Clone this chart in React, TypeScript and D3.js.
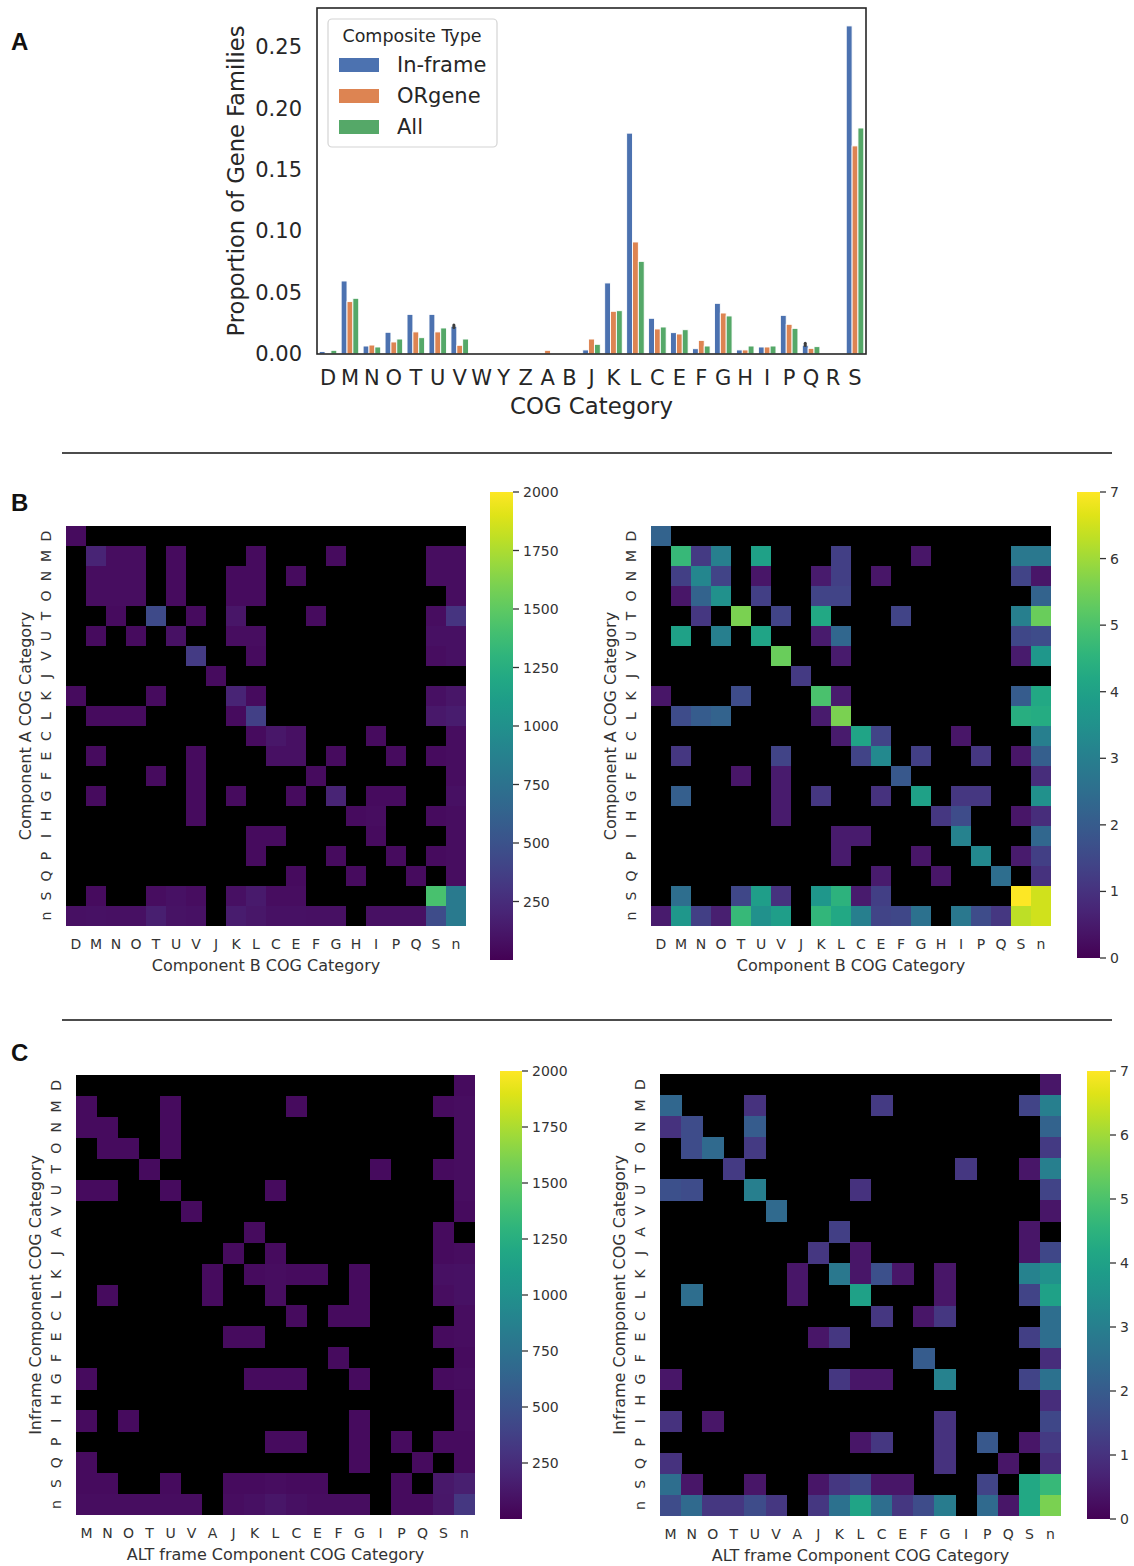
import { useEffect, useRef } from "react";
import * as d3 from "d3";

const FONT = "DejaVu Sans, sans-serif";
const INK = "#262626";
const TICK_INK = "#333";

// ---- Panel A: proportion of gene families per COG category ----
const cogCats = ["D", "M", "N", "O", "T", "U", "V", "W", "Y", "Z", "A", "B", "J", "K", "L", "C", "E", "F", "G", "H", "I", "P", "Q", "R", "S"];
const inframeProp = [0.002, 0.0595, 0.0065, 0.0177, 0.0323, 0.0323, 0.0226, 0, 0, 0, 0, 0, 0.0033, 0.0579, 0.18, 0.0291, 0.0174, 0.0043, 0.0413, 0.0033, 0.0057, 0.0315, 0.0071, 0, 0.2674];
const orgeneProp = [0, 0.0427, 0.0073, 0.0098, 0.018, 0.018, 0.0071, 0, 0, 0, 0.003, 0, 0.0122, 0.0348, 0.0913, 0.0204, 0.0163, 0.0111, 0.0334, 0.0033, 0.0057, 0.0242, 0.0046, 0, 0.1696];
const allProp = [0.003, 0.0454, 0.0057, 0.0122, 0.0133, 0.0212, 0.0122, 0, 0, 0, 0, 0, 0.0079, 0.0353, 0.0755, 0.022, 0.0198, 0.0065, 0.031, 0.0065, 0.0065, 0.0209, 0.006, 0, 0.1842];
const seriesNames = ["In-frame", "ORgene", "All"];
const seriesColors = ["#4c72b0", "#dd8452", "#55a868"];
const errCats = ["V", "Q"];
const errLow = [0.0216, 0.0069];
const errHigh = [0.0236, 0.0088];
const yTicksA = [0, 0.05, 0.1, 0.15, 0.2, 0.25];

// ---- Panel B: component A x component B ----
const cogB = ["D", "M", "N", "O", "T", "U", "V", "J", "K", "L", "C", "E", "F", "G", "H", "I", "P", "Q", "S", "n"];
const countsB = [
  [60, 0, 0, 0, 0, 0, 0, 0, 0, 0, 0, 0, 0, 0, 0, 0, 0, 0, 0, 0],
  [0, 200, 70, 70, 0, 60, 0, 0, 0, 60, 0, 0, 0, 60, 0, 0, 0, 0, 70, 70],
  [0, 70, 70, 70, 0, 60, 0, 0, 60, 60, 0, 60, 0, 0, 0, 0, 0, 0, 70, 70],
  [0, 70, 70, 70, 0, 60, 0, 0, 60, 60, 0, 0, 0, 0, 0, 0, 0, 0, 0, 70],
  [0, 0, 60, 0, 450, 0, 60, 0, 110, 0, 0, 0, 60, 0, 0, 0, 0, 0, 70, 300],
  [0, 60, 0, 60, 0, 90, 0, 0, 70, 70, 0, 0, 0, 0, 0, 0, 0, 0, 80, 80],
  [0, 0, 0, 0, 0, 0, 350, 0, 0, 60, 0, 0, 0, 0, 0, 0, 0, 0, 70, 80],
  [0, 0, 0, 0, 0, 0, 0, 60, 0, 0, 0, 0, 0, 0, 0, 0, 0, 0, 0, 0],
  [60, 0, 0, 0, 60, 0, 0, 0, 200, 60, 0, 0, 0, 0, 0, 0, 0, 0, 80, 110],
  [0, 60, 60, 60, 0, 0, 0, 0, 60, 380, 0, 0, 0, 0, 0, 0, 0, 0, 130, 150],
  [0, 0, 0, 0, 0, 0, 0, 0, 0, 60, 120, 80, 0, 0, 0, 60, 0, 0, 0, 70],
  [0, 60, 0, 0, 0, 0, 60, 0, 0, 0, 80, 80, 0, 60, 0, 0, 60, 0, 60, 70],
  [0, 0, 0, 0, 60, 0, 60, 0, 0, 0, 0, 0, 60, 0, 0, 0, 0, 0, 0, 70],
  [0, 60, 0, 0, 0, 0, 60, 0, 60, 0, 0, 60, 0, 200, 0, 60, 60, 0, 0, 80],
  [0, 0, 0, 0, 0, 0, 60, 0, 0, 0, 0, 0, 0, 0, 60, 70, 0, 0, 60, 70],
  [0, 0, 0, 0, 0, 0, 0, 0, 0, 60, 60, 0, 0, 0, 0, 60, 0, 0, 0, 70],
  [0, 0, 0, 0, 0, 0, 0, 0, 0, 60, 0, 0, 0, 60, 0, 0, 60, 0, 60, 70],
  [0, 0, 0, 0, 0, 0, 0, 0, 0, 0, 0, 60, 0, 0, 60, 0, 0, 60, 0, 70],
  [0, 60, 0, 0, 70, 90, 70, 0, 80, 140, 70, 70, 0, 0, 0, 0, 0, 0, 1420, 820],
  [80, 90, 80, 80, 170, 100, 90, 0, 150, 120, 90, 90, 80, 80, 0, 80, 80, 80, 460, 820],
];
const logB = [
  [2.2, 0, 0, 0, 0, 0, 0, 0, 0, 0, 0, 0, 0, 0, 0, 0, 0, 0, 0, 0],
  [0, 4.7, 1.2, 3.0, 0, 4.0, 0, 0, 0, 1.3, 0, 0, 0, 0.4, 0, 0, 0, 0, 2.8, 2.8],
  [0, 1.3, 3.2, 1.4, 0, 0.4, 0, 0, 0.5, 1.3, 0, 0.4, 0, 0, 0, 0, 0, 0, 1.4, 0.4],
  [0, 0.4, 2.2, 3.5, 0, 1.3, 0, 0, 1.4, 1.4, 0, 0, 0, 0, 0, 0, 0, 0, 0, 2.2],
  [0, 0, 1.1, 0, 5.6, 0, 1.4, 0, 4.2, 0, 0, 0, 1.4, 0, 0, 0, 0, 0, 3.0, 5.4],
  [0, 4.0, 0, 3.0, 0, 4.1, 0, 0, 0.5, 2.3, 0, 0, 0, 0, 0, 0, 0, 0, 1.5, 1.6],
  [0, 0, 0, 0, 0, 0, 5.4, 0, 0, 0.5, 0, 0, 0, 0, 0, 0, 0, 0, 0.5, 3.7],
  [0, 0, 0, 0, 0, 0, 0, 1.2, 0, 0, 0, 0, 0, 0, 0, 0, 0, 0, 0, 0],
  [0.4, 0, 0, 0, 1.6, 0, 0, 0, 5.0, 0.5, 0, 0, 0, 0, 0, 0, 0, 0, 2.0, 4.2],
  [0, 1.6, 2.0, 2.2, 0, 0, 0, 0, 0.5, 5.6, 0, 0, 0, 0, 0, 0, 0, 0, 4.4, 4.3],
  [0, 0, 0, 0, 0, 0, 0, 0, 0, 0.5, 4.1, 1.4, 0, 0, 0, 0.4, 0, 0, 0, 3.0],
  [0, 1.1, 0, 0, 0, 0, 1.4, 0, 0, 0, 1.4, 3.3, 0, 1.3, 0, 0, 1.1, 0, 0.4, 2.1],
  [0, 0, 0, 0, 0.4, 0, 0.5, 0, 0, 0, 0, 0, 1.9, 0, 0, 0, 0, 0, 0, 0.9],
  [0, 2.1, 0, 0, 0, 0, 0.5, 0, 1.1, 0, 0, 1.0, 0, 4.0, 0, 1.1, 1.1, 0, 0, 3.5],
  [0, 0, 0, 0, 0, 0, 0.5, 0, 0, 0, 0, 0, 0, 0, 1.1, 1.6, 0, 0, 0.4, 0.9],
  [0, 0, 0, 0, 0, 0, 0, 0, 0, 0.5, 0.5, 0, 0, 0, 0, 3.1, 0, 0, 0, 2.3],
  [0, 0, 0, 0, 0, 0, 0, 0, 0, 0.5, 0, 0, 0, 0.4, 0, 0, 3.3, 0, 0.5, 1.3],
  [0, 0, 0, 0, 0, 0, 0, 0, 0, 0, 0, 0.5, 0, 0, 0.4, 0, 0, 2.5, 0, 1.0],
  [0, 2.5, 0, 0, 1.5, 3.9, 1.0, 0, 3.7, 4.5, 0.5, 1.3, 0, 0, 0, 0, 0, 0, 7.0, 6.5],
  [0.5, 3.7, 1.3, 0.6, 4.7, 3.5, 3.9, 0, 4.6, 4.2, 3.0, 1.4, 1.5, 2.6, 0, 2.8, 1.6, 1.1, 6.3, 6.5],
];

// ---- Panel C: inframe component x ALT frame component ----
const cogCRows = ["D", "M", "N", "O", "T", "U", "V", "A", "J", "K", "L", "C", "E", "F", "G", "H", "I", "P", "Q", "S", "n"];
const cogCCols = ["M", "N", "O", "T", "U", "V", "A", "J", "K", "L", "C", "E", "F", "G", "I", "P", "Q", "S", "n"];
const countsC = [
  [0, 0, 0, 0, 0, 0, 0, 0, 0, 0, 0, 0, 0, 0, 0, 0, 0, 0, 60],
  [60, 0, 0, 0, 60, 0, 0, 0, 0, 0, 60, 0, 0, 0, 0, 0, 0, 60, 70],
  [60, 60, 0, 0, 60, 0, 0, 0, 0, 0, 0, 0, 0, 0, 0, 0, 0, 0, 70],
  [0, 60, 60, 0, 60, 0, 0, 0, 0, 0, 0, 0, 0, 0, 0, 0, 0, 0, 70],
  [0, 0, 0, 60, 0, 0, 0, 0, 0, 0, 0, 0, 0, 0, 60, 0, 0, 60, 70],
  [60, 60, 0, 0, 60, 0, 0, 0, 0, 60, 0, 0, 0, 0, 0, 0, 0, 0, 70],
  [0, 0, 0, 0, 0, 60, 0, 0, 0, 0, 0, 0, 0, 0, 0, 0, 0, 0, 60],
  [0, 0, 0, 0, 0, 0, 0, 0, 60, 0, 0, 0, 0, 0, 0, 0, 0, 60, 0],
  [0, 0, 0, 0, 0, 0, 0, 60, 0, 60, 0, 0, 0, 0, 0, 0, 0, 60, 70],
  [0, 0, 0, 0, 0, 0, 60, 0, 60, 70, 60, 60, 0, 60, 0, 0, 0, 80, 90],
  [0, 60, 0, 0, 0, 0, 60, 0, 0, 70, 0, 0, 0, 60, 0, 0, 0, 70, 90],
  [0, 0, 0, 0, 0, 0, 0, 0, 0, 0, 60, 0, 60, 60, 0, 0, 0, 0, 70],
  [0, 0, 0, 0, 0, 0, 0, 60, 60, 0, 0, 0, 0, 0, 0, 0, 0, 60, 70],
  [0, 0, 0, 0, 0, 0, 0, 0, 0, 0, 0, 0, 60, 0, 0, 0, 0, 0, 60],
  [60, 0, 0, 0, 0, 0, 0, 0, 60, 60, 60, 0, 0, 60, 0, 0, 0, 60, 70],
  [0, 0, 0, 0, 0, 0, 0, 0, 0, 0, 0, 0, 0, 0, 0, 0, 0, 0, 60],
  [60, 0, 60, 0, 0, 0, 0, 0, 0, 0, 0, 0, 0, 60, 0, 0, 0, 0, 70],
  [0, 0, 0, 0, 0, 0, 0, 0, 0, 60, 60, 0, 0, 60, 0, 60, 0, 60, 60],
  [60, 0, 0, 0, 0, 0, 0, 0, 0, 0, 0, 0, 0, 60, 0, 0, 60, 0, 60],
  [60, 60, 0, 0, 60, 0, 0, 60, 60, 70, 60, 60, 0, 0, 0, 60, 0, 130, 170],
  [70, 70, 70, 70, 70, 70, 0, 70, 80, 110, 80, 70, 70, 70, 0, 60, 60, 120, 320],
];
const logC = [
  [0, 0, 0, 0, 0, 0, 0, 0, 0, 0, 0, 0, 0, 0, 0, 0, 0, 0, 0.4],
  [2.3, 0, 0, 0, 1.0, 0, 0, 0, 0, 0, 1.2, 0, 0, 0, 0, 0, 0, 1.4, 3.0],
  [1.0, 1.6, 0, 0, 2.0, 0, 0, 0, 0, 0, 0, 0, 0, 0, 0, 0, 0, 0, 2.2],
  [0, 1.6, 2.4, 0, 1.2, 0, 0, 0, 0, 0, 0, 0, 0, 0, 0, 0, 0, 0, 1.2],
  [0, 0, 0, 1.2, 0, 0, 0, 0, 0, 0, 0, 0, 0, 0, 1.1, 0, 0, 0.4, 3.0],
  [1.7, 1.6, 0, 0, 3.0, 0, 0, 0, 0, 1.0, 0, 0, 0, 0, 0, 0, 0, 0, 1.4],
  [0, 0, 0, 0, 0, 2.4, 0, 0, 0, 0, 0, 0, 0, 0, 0, 0, 0, 0, 0.4],
  [0, 0, 0, 0, 0, 0, 0, 0, 1.3, 0, 0, 0, 0, 0, 0, 0, 0, 0.4, 0],
  [0, 0, 0, 0, 0, 0, 0, 1.1, 0, 0.4, 0, 0, 0, 0, 0, 0, 0, 0.4, 1.5],
  [0, 0, 0, 0, 0, 0, 0.4, 0, 2.8, 0.4, 1.7, 0.4, 0, 0.4, 0, 0, 0, 3.1, 3.5],
  [0, 2.5, 0, 0, 0, 0, 0.4, 0, 0, 4.0, 0, 0, 0, 0.4, 0, 0, 0, 1.4, 4.0],
  [0, 0, 0, 0, 0, 0, 0, 0, 0, 0, 1.1, 0, 0.4, 1.1, 0, 0, 0, 0, 2.5],
  [0, 0, 0, 0, 0, 0, 0, 0.4, 1.1, 0, 0, 0, 0, 0, 0, 0, 0, 1.3, 2.5],
  [0, 0, 0, 0, 0, 0, 0, 0, 0, 0, 0, 0, 2.0, 0, 0, 0, 0, 0, 0.9],
  [0.4, 0, 0, 0, 0, 0, 0, 0, 1.1, 0.4, 0.4, 0, 0, 3.1, 0, 0, 0, 1.4, 2.6],
  [0, 0, 0, 0, 0, 0, 0, 0, 0, 0, 0, 0, 0, 0, 0, 0, 0, 0, 0.9],
  [1.0, 0, 0.4, 0, 0, 0, 0, 0, 0, 0, 0, 0, 0, 1.0, 0, 0, 0, 0, 1.5],
  [0, 0, 0, 0, 0, 0, 0, 0, 0, 0.4, 1.1, 0, 0, 1.0, 0, 1.9, 0, 0.4, 1.2],
  [1.0, 0, 0, 0, 0, 0, 0, 0, 0, 0, 0, 0, 0, 1.0, 0, 0, 0.4, 0, 0.9],
  [2.5, 0.4, 0, 0, 0.4, 0, 0, 0.4, 1.1, 1.5, 0.4, 0.4, 0, 0, 0, 1.4, 0, 4.2, 4.7],
  [1.6, 2.4, 1.1, 1.1, 1.6, 1.1, 0, 1.1, 2.6, 4.1, 2.5, 1.1, 1.6, 2.9, 0, 2.4, 0.4, 4.2, 5.6],
];

const countTicks = [250, 500, 750, 1000, 1250, 1500, 1750, 2000];
const logTicks = [0, 1, 2, 3, 4, 5, 6, 7];

type Sel = d3.Selection<SVGSVGElement, unknown, null, undefined>;

function drawBars(svg: Sel) {
  const left = 317, right = 866, top = 8, bottom = 354;
  const x = d3.scaleBand<string>().domain(cogCats).range([left, right]);
  const bw = x.bandwidth();
  const hue = d3.scaleBand<string>().domain(seriesNames).range([-0.4 * bw, 0.4 * bw]);
  const y = d3.scaleLinear().domain([0, 0.282]).range([bottom, top]);
  const g = svg.append("g");

  [inframeProp, orgeneProp, allProp].forEach((vals, si) => {
    const rows = cogCats.map((c, i) => ({ c, v: vals[i] })).filter((d) => d.v > 0);
    g.append("g")
      .selectAll("rect")
      .data(rows)
      .join("rect")
      .attr("x", (d) => x(d.c)! + bw / 2 + hue(seriesNames[si])!)
      .attr("width", hue.bandwidth())
      .attr("y", (d) => y(d.v))
      .attr("height", (d) => bottom - y(d.v))
      .attr("fill", seriesColors[si])
      .attr("stroke", "white")
      .attr("stroke-width", 0.9);
  });

  // collapsed error bars on the In-frame series
  g.append("g")
    .selectAll("line")
    .data(errCats.map((c, i) => ({ c, lo: errLow[i], hi: errHigh[i] })))
    .join("line")
    .attr("x1", (d) => x(d.c)! + bw / 2 + hue("In-frame")! + hue.bandwidth() / 2)
    .attr("x2", (d) => x(d.c)! + bw / 2 + hue("In-frame")! + hue.bandwidth() / 2)
    .attr("y1", (d) => y(d.lo))
    .attr("y2", (d) => y(d.hi))
    .attr("stroke", "#3d3d3d")
    .attr("stroke-width", 3)
    .attr("stroke-linecap", "round");

  g.append("rect")
    .attr("x", left).attr("y", top)
    .attr("width", right - left).attr("height", bottom - top)
    .attr("fill", "none").attr("stroke", INK).attr("stroke-width", 1.6);

  g.append("g")
    .selectAll("text")
    .data(yTicksA)
    .join("text")
    .attr("x", 302)
    .attr("y", (d) => y(d))
    .attr("text-anchor", "end")
    .attr("dominant-baseline", "central")
    .attr("font-size", 21)
    .attr("fill", INK)
    .text((d) => d3.format(".2f")(d));

  g.append("g")
    .selectAll("text")
    .data(cogCats)
    .join("text")
    .attr("x", (d) => x(d)! + bw / 2)
    .attr("y", 378)
    .attr("text-anchor", "middle")
    .attr("dominant-baseline", "central")
    .attr("font-size", 21)
    .attr("fill", INK)
    .text((d) => d);

  g.append("text")
    .attr("x", (left + right) / 2).attr("y", 406)
    .attr("text-anchor", "middle").attr("dominant-baseline", "central")
    .attr("font-size", 22.8).attr("fill", INK)
    .text("COG Category");

  g.append("text")
    .attr("transform", `translate(236,${(top + bottom) / 2}) rotate(-90)`)
    .attr("text-anchor", "middle").attr("dominant-baseline", "central")
    .attr("font-size", 22.6).attr("fill", INK)
    .text("Proportion of Gene Families");

  // Legend
  const lg = g.append("g");
  lg.append("rect")
    .attr("x", 328).attr("y", 19).attr("width", 169).attr("height", 128).attr("rx", 4)
    .attr("fill", "white").attr("fill-opacity", 0.85)
    .attr("stroke", "#d4d4d4").attr("stroke-width", 1.2);
  lg.append("text")
    .attr("x", 412).attr("y", 36)
    .attr("text-anchor", "middle").attr("dominant-baseline", "central")
    .attr("font-size", 17.5).attr("fill", INK)
    .text("Composite Type");
  seriesNames.forEach((name, i) => {
    const cy = 65 + i * 31;
    lg.append("rect")
      .attr("x", 339).attr("y", cy - 7).attr("width", 40).attr("height", 14)
      .attr("fill", seriesColors[i]);
    lg.append("text")
      .attr("x", 397).attr("y", cy)
      .attr("dominant-baseline", "central")
      .attr("font-size", 21).attr("fill", INK)
      .text(name);
  });
}

interface HeatOpts {
  id: string;
  x: number; y: number; w: number; h: number;
  rows: string[]; cols: string[];
  values: number[][];
  vmax: number;
  ticks: number[];
  cbX: number; cbW: number; cbBottom: number; cbTop: number;
  xLabel: string; yLabel: string;
}

function drawHeatmap(svg: Sel, o: HeatOpts) {
  const g = svg.append("g");
  const cx = d3.scaleBand<string>().domain(o.cols).range([o.x, o.x + o.w]);
  const cy = d3.scaleBand<string>().domain(o.rows).range([o.y, o.y + o.h]);
  const color = d3.scaleSequential(d3.interpolateViridis).domain([0, o.vmax]).clamp(true);

  g.append("rect")
    .attr("x", o.x).attr("y", o.y).attr("width", o.w).attr("height", o.h)
    .attr("fill", "#000");

  const cells = o.rows.flatMap((r, i) => o.cols.map((c, j) => ({ r, c, v: o.values[i][j] })))
    .filter((d) => d.v > 0);
  g.append("g")
    .attr("shape-rendering", "crispEdges")
    .selectAll("rect")
    .data(cells)
    .join("rect")
    .attr("x", (d) => cx(d.c)!)
    .attr("y", (d) => cy(d.r)!)
    .attr("width", cx.bandwidth() + 0.4)
    .attr("height", cy.bandwidth() + 0.4)
    .attr("fill", (d) => color(d.v));

  // tick labels
  g.append("g")
    .selectAll("text")
    .data(o.cols)
    .join("text")
    .attr("x", (d) => cx(d)! + cx.bandwidth() / 2)
    .attr("y", o.y + o.h + 18)
    .attr("text-anchor", "middle").attr("dominant-baseline", "central")
    .attr("font-size", 14).attr("fill", TICK_INK)
    .text((d) => d);

  g.append("g")
    .selectAll("text")
    .data(o.rows)
    .join("text")
    .attr("transform", (d) => `translate(${o.x - 20},${cy(d)! + cy.bandwidth() / 2}) rotate(-90)`)
    .attr("text-anchor", "middle").attr("dominant-baseline", "central")
    .attr("font-size", 14).attr("fill", TICK_INK)
    .text((d) => d);

  g.append("text")
    .attr("x", o.x + o.w / 2).attr("y", o.y + o.h + 39)
    .attr("text-anchor", "middle").attr("dominant-baseline", "central")
    .attr("font-size", 16).attr("fill", TICK_INK)
    .text(o.xLabel);

  g.append("text")
    .attr("transform", `translate(${o.x - 41},${o.y + o.h / 2}) rotate(-90)`)
    .attr("text-anchor", "middle").attr("dominant-baseline", "central")
    .attr("font-size", 16).attr("fill", TICK_INK)
    .text(o.yLabel);

  // colorbar
  const grad = svg.append("defs").append("linearGradient")
    .attr("id", o.id).attr("x1", 0).attr("y1", 1).attr("x2", 0).attr("y2", 0);
  d3.range(0, 1.0001, 0.05).forEach((t) => {
    grad.append("stop").attr("offset", t).attr("stop-color", d3.interpolateViridis(t));
  });
  g.append("rect")
    .attr("x", o.cbX).attr("y", o.cbTop)
    .attr("width", o.cbW).attr("height", o.cbBottom - o.cbTop)
    .attr("fill", `url(#${o.id})`);

  const cs = d3.scaleLinear().domain([0, o.vmax]).range([o.cbBottom, o.cbTop]);
  const tg = g.append("g").selectAll("g").data(o.ticks).join("g")
    .attr("transform", (d) => `translate(${o.cbX + o.cbW},${cs(d)})`);
  tg.append("line").attr("x1", 0).attr("x2", 6).attr("stroke", TICK_INK).attr("stroke-width", 1.3);
  tg.append("text")
    .attr("x", 10).attr("dominant-baseline", "central")
    .attr("font-size", 14).attr("fill", TICK_INK)
    .text((d) => String(d));
}

export default function App() {
  const svgRef = useRef<SVGSVGElement>(null);

  useEffect(() => {
    const svg = d3.select(svgRef.current!) as Sel;
    svg.selectAll("*").remove();
    svg.attr("font-family", FONT);

    svg.append("rect").attr("width", 1134).attr("height", 1566).attr("fill", "white");

    // panel letters and separators
    [["A", 50], ["B", 511], ["C", 1061]].forEach(([t, yy]) => {
      svg.append("text")
        .attr("x", 11).attr("y", yy as number)
        .attr("font-family", "Liberation Sans, Arial, sans-serif")
        .attr("font-weight", "bold").attr("font-size", 24).attr("fill", "#111")
        .text(t as string);
    });
    [453, 1020].forEach((yy) => {
      svg.append("line")
        .attr("x1", 62).attr("x2", 1112).attr("y1", yy).attr("y2", yy)
        .attr("stroke", "#111").attr("stroke-width", 1.5);
    });

    drawBars(svg);

    drawHeatmap(svg, {
      id: "cbB1", x: 66, y: 526, w: 400, h: 400, rows: cogB, cols: cogB,
      values: countsB, vmax: 2000, ticks: countTicks,
      cbX: 490, cbW: 23, cbBottom: 960, cbTop: 492,
      xLabel: "Component B COG Category", yLabel: "Component A COG Category",
    });
    drawHeatmap(svg, {
      id: "cbB2", x: 651, y: 526, w: 400, h: 400, rows: cogB, cols: cogB,
      values: logB, vmax: 7, ticks: logTicks,
      cbX: 1077, cbW: 23, cbBottom: 958, cbTop: 492,
      xLabel: "Component B COG Category", yLabel: "Component A COG Category",
    });
    drawHeatmap(svg, {
      id: "cbC1", x: 76, y: 1075, w: 399, h: 440, rows: cogCRows, cols: cogCCols,
      values: countsC, vmax: 2000, ticks: countTicks,
      cbX: 500, cbW: 22, cbBottom: 1519, cbTop: 1071,
      xLabel: "ALT frame Component COG Category", yLabel: "Inframe Component COG Category",
    });
    drawHeatmap(svg, {
      id: "cbC2", x: 660, y: 1074, w: 401, h: 442, rows: cogCRows, cols: cogCCols,
      values: logC, vmax: 7, ticks: logTicks,
      cbX: 1087, cbW: 23, cbBottom: 1519, cbTop: 1071,
      xLabel: "ALT frame Component COG Category", yLabel: "Inframe Component COG Category",
    });
  }, []);

  return (
    <>
      <style>{`body{margin:0}`}</style>
      <svg ref={svgRef} width={1134} height={1566} style={{ display: "block" }} />
    </>
  );
}
